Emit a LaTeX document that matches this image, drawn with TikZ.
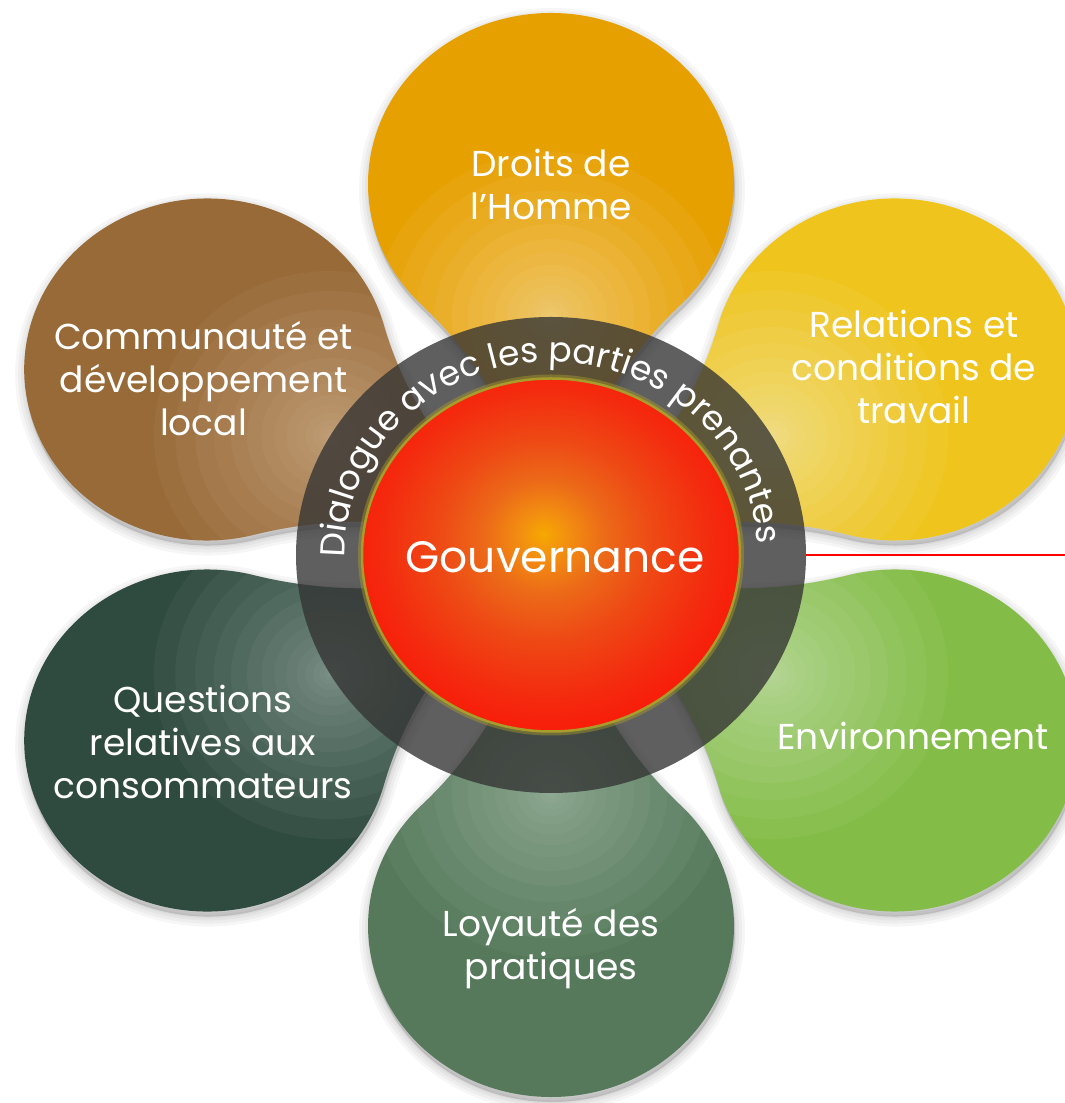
\documentclass[tikz,border=0pt]{standalone}
\usepackage{fontspec}
\setmainfont{Poppins}
\usetikzlibrary{shapes.geometric,decorations.text}

\definecolor{cDroits}{HTML}{E6A000}
\definecolor{gDroits}{HTML}{FAE3AE}
\definecolor{cRel}{HTML}{EFC41C}
\definecolor{gRel}{HTML}{FDF1C0}
\definecolor{cEnv}{HTML}{83BC47}
\definecolor{gEnv}{HTML}{D6EAC2}
\definecolor{cLoy}{HTML}{55795A}
\definecolor{gLoy}{HTML}{B4C8B6}
\definecolor{cQue}{HTML}{2F4A3E}
\definecolor{gQue}{HTML}{A8BAB0}
\definecolor{cCom}{HTML}{986A38}
\definecolor{gCom}{HTML}{DCBE9E}
\definecolor{ringgray}{HTML}{333333}
\definecolor{rimcol}{HTML}{A89C2C}
\definecolor{gv0}{HTML}{F6A800}
\definecolor{gv1}{HTML}{F39010}
\definecolor{gv2}{HTML}{EC6A18}
\definecolor{gv3}{HTML}{EE4A15}
\definecolor{gv4}{HTML}{F42A0E}
\definecolor{gv5}{HTML}{FC1205}
\definecolor{redline}{HTML}{FF0000}

\pgfdeclareradialshading{govshade}{\pgfpoint{-1bp}{3bp}}{color(0bp)=(gv0); color(3bp)=(gv1); color(8bp)=(gv2); color(14bp)=(gv3); color(22bp)=(gv4); color(30bp)=(gv5); color(38bp)=(red); color(50bp)=(red)}

\def\petalshape{(0,0) .. controls (104.7,-18.7) and (188,-59) .. (250.1,-120.9) arc[start angle=225, end angle=495, radius=171] .. controls (188,59) and (104.7,18.7) .. (0,0) -- cycle}

\newcommand\dialfont{\fontsize{34.5}{40}\selectfont}

\begin{document}
\begin{tikzpicture}[x=1pt,y=1pt,
  lab/.style={align=center, text=white, font=\fontsize{36}{43}\selectfont, inner sep=0pt}]
\fill[white] (0,0) rectangle (1065,1103);
\useasboundingbox (0,0) rectangle (1065,1103);
\begin{scope}
\clip (0,0) rectangle (1065,1103);
% soft shadows of the petals
\foreach \ang in {90,30,-30,-90,210,150}{
  \begin{scope}[shift={(552,543)}, xscale=1.07, rotate=\ang]
    \foreach \w in {20,14,8,3}{
      \filldraw[black, opacity=0.035, line width=\w pt, line join=round] \petalshape;}
  \end{scope}}
% petals
\foreach \ang/\base/\glow in {90/cDroits/gDroits, 30/cRel/gRel, -30/cEnv/gEnv, -90/cLoy/gLoy, 210/cQue/gQue, 150/cCom/gCom}{
  \begin{scope}[shift={(551,548)}, xscale=1.07, rotate=\ang]
    \fill[\base] \petalshape;
    \begin{scope}
      \clip \petalshape;
      \foreach \k in {1,...,16}{
        \fill[\glow, opacity=0.07] (238,0) circle ({165*(\k/16)^2});}
    \end{scope}
  \end{scope}}
% ring
\node[ellipse, minimum width=510, minimum height=476, inner sep=0pt, fill=ringgray, fill opacity=0.78] (ring) at (551,548) {};
\coordinate (edgeR) at (1065,548);
\draw[redline, line width=2.2] (ring.east) -- (edgeR);
% red centre
\draw[rimcol, line width=8, opacity=0.45] (551,548) ellipse [x radius=189, y radius=176.5];
\node[ellipse, minimum width=378, minimum height=353, inner sep=0pt, shade, shading=govshade, draw=rimcol, line width=2.5] (gov) at (551,548) {};
\node[font=\fontsize{44}{50}\selectfont, text=white, inner sep=0pt] (govT) at (555,545.5) {Gouvernance};
% curved text
\path[decorate, decoration={text along path, text align=center, text={|\dialfont\color{white}|Dialogue avec les parties prenantes}}] (551,548) ++(182:206.5 and 193) arc[start angle=182, end angle=2, x radius=206.5, y radius=193];
% labels
\node[lab] (tDroits) at (551,919) {Droits de\\l’Homme};
\node[lab] (tRel) at (914,736) {Relations et\\conditions de\\travail};
\node[lab] (tCom) at (203.5,724.5) {Communauté et\\développement\\local};
\node[lab] (tQue) at (203,361) {Questions\\relatives aux\\consommateurs};
\node[lab] (tEnv) at (913,367) {Environnement};
\node[lab] (tLoy) at (551,154) {Loyauté des\\pratiques};
\end{scope}
\end{tikzpicture}
\end{document}
